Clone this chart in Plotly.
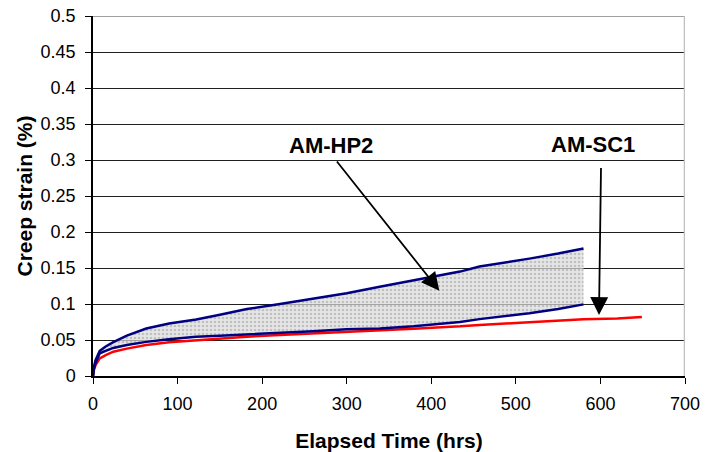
import plotly.graph_objects as go

# ---- data ----
hp2_time = [0, 1, 3, 8, 15, 24, 40, 63, 90, 122, 150, 182, 221, 260, 300,
            339, 379, 398, 434, 457, 490, 516, 550, 580]
hp2_upper = [0, 0.012, 0.022, 0.035, 0.041, 0.047, 0.056, 0.066, 0.073, 0.0785,
             0.085, 0.093, 0.100, 0.107, 0.115, 0.124, 0.133, 0.137, 0.145,
             0.152, 0.158, 0.163, 0.170, 0.177]
hp2_lower = [0, 0.010, 0.018, 0.0315, 0.035, 0.039, 0.043, 0.0474, 0.051, 0.0546,
             0.056, 0.0575, 0.060, 0.062, 0.0648, 0.066, 0.069, 0.071, 0.075,
             0.079, 0.083, 0.087, 0.093, 0.0995]
sc1_time = [0, 1, 3, 8, 15, 24, 40, 63, 90, 122, 150, 182, 221, 260, 300,
            339, 379, 434, 457, 500, 550, 580, 620, 649]
sc1_strain = [0, 0.008, 0.015, 0.0245, 0.029, 0.0338, 0.038, 0.043, 0.047, 0.050,
              0.052, 0.0546, 0.057, 0.059, 0.0615, 0.063, 0.0657, 0.069, 0.071,
              0.0735, 0.0765, 0.0787, 0.080, 0.082]

x_ticks = [0, 100, 200, 300, 400, 500, 600, 700]
y_ticks = [0, 0.05, 0.1, 0.15, 0.2, 0.25, 0.3, 0.35, 0.4, 0.45, 0.5]
y_tick_text = ["0", "0.05", "0.1", "0.15", "0.2", "0.25", "0.3", "0.35", "0.4", "0.45", "0.5"]

labels = ["AM-HP2", "AM-SC1"]
label_pos = [(282, 0.320), (591, 0.321)]
arrow_tail = [(287, 0.300), (600.7, 0.291)]
arrow_tip = [(409.5, 0.1185), (598.3, 0.0847)]

FONT = "Liberation Sans, Arial, sans-serif"

fig = go.Figure()
fig.add_trace(go.Scatter(x=sc1_time, y=sc1_strain, mode="lines",
                         line=dict(color="#ff0000", width=2.5), showlegend=False))
fig.add_trace(go.Scatter(x=hp2_time, y=hp2_lower, mode="lines",
                         line=dict(color="#000080", width=2.5), showlegend=False))
fig.add_trace(go.Scatter(x=hp2_time, y=hp2_upper, mode="lines", fill="tonexty",
                         fillcolor="rgba(205,205,205,0.75)",
                         fillpattern=dict(shape=".", fgcolor="#9a9a9a",
                                          bgcolor="rgba(218,218,218,0.7)",
                                          size=4, solidity=0.3),
                         line=dict(color="#000080", width=2.5), showlegend=False))

for (tx, ty), (hx, hy) in zip(arrow_tail, arrow_tip):
    fig.add_annotation(x=hx, y=hy, ax=tx, ay=ty, xref="x", yref="y",
                       axref="x", ayref="y", text="", showarrow=True,
                       arrowhead=2, arrowsize=2.0, arrowwidth=1.8,
                       arrowcolor="black", standoff=0)
for t, (lx, ly) in zip(labels, label_pos):
    fig.add_annotation(x=lx, y=ly, xref="x", yref="y", text="<b>%s</b>" % t,
                       showarrow=False, font=dict(family=FONT, size=22, color="black"))

# plot-area border (top grey, right light grey)
fig.add_shape(type="line", xref="x", yref="y", x0=0, x1=700, y0=0.5, y1=0.5,
              line=dict(color="#808080", width=1.5))
fig.add_shape(type="line", xref="x", yref="y", x0=700, x1=700, y0=0, y1=0.5,
              line=dict(color="#c0c0c0", width=2.5))

fig.update_layout(
    width=714, height=452,
    margin=dict(l=93, r=29, t=16, b=76, autoexpand=False),
    paper_bgcolor="white", plot_bgcolor="white",
    font=dict(family=FONT, color="black"),
    xaxis=dict(range=[0, 700], tickvals=x_ticks, ticks="outside", ticklen=6,
               tickcolor="black", showline=True, linecolor="black", linewidth=1.5,
               showgrid=False, zeroline=False, automargin=False,
               tickfont=dict(size=18), ticklabelstandoff=5,
               title=dict(text="<b>Elapsed Time (hrs)</b>", font=dict(size=21), standoff=20)),
    yaxis=dict(range=[0, 0.5], tickvals=y_ticks, ticktext=y_tick_text, ticks="outside",
               ticklen=6, tickcolor="black", showline=True, linecolor="black", linewidth=1.5,
               showgrid=True, gridcolor="#202020", gridwidth=1, zeroline=False,
               automargin=False, ticklabelstandoff=6,
               tickfont=dict(size=18),
               title=dict(text="<b>Creep strain (%)</b>", font=dict(size=21), standoff=2)),
)

fig.write_html("out.html", config={"displayModeBar": False},
               post_script="document.body.style.margin='0';")
